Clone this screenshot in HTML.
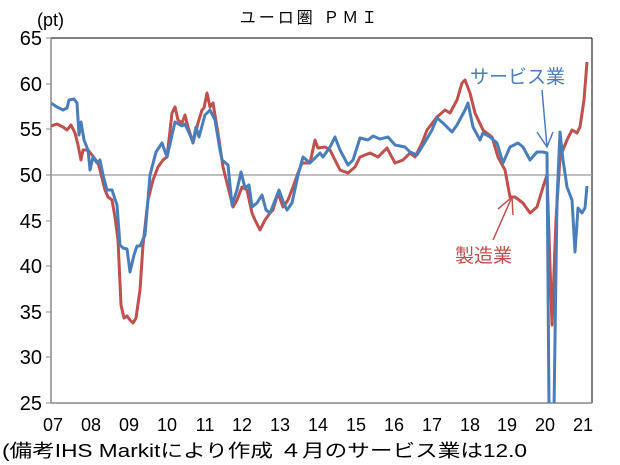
<!DOCTYPE html>
<html><head><meta charset="utf-8"><style>
body{margin:0;background:#fff;width:620px;height:465px;overflow:hidden}
svg{display:block}
text{font-family:"Liberation Sans","Noto Sans CJK JP",sans-serif}
</style></head><body>
<svg width="620" height="465" viewBox="0 0 620 465" xmlns="http://www.w3.org/2000/svg">
<defs><clipPath id="c"><rect x="51" y="30" width="541" height="373"/></clipPath></defs>
<text x="310" y="23" font-size="16" text-anchor="middle" letter-spacing="3">ユーロ圏 ＰＭＩ</text>
<text x="37" y="26" font-size="18" font-family="Liberation Mono,monospace">(pt)</text>
<line x1="51" y1="38" x2="592" y2="38" stroke="#000" stroke-width="1"/>
<line x1="592" y1="38" x2="592" y2="403" stroke="#000" stroke-width="1"/>
<line x1="51" y1="38" x2="51" y2="403" stroke="#888" stroke-width="1.5"/>
<line x1="51" y1="403" x2="592" y2="403" stroke="#888" stroke-width="1.5"/>
<line x1="51" y1="175" x2="592" y2="175" stroke="#999" stroke-width="1.3"/>
<g stroke="#888" stroke-width="1">
<line x1="46" y1="38" x2="51" y2="38"/><line x1="46" y1="84" x2="51" y2="84"/><line x1="46" y1="129" x2="51" y2="129"/><line x1="46" y1="175" x2="51" y2="175"/><line x1="46" y1="221" x2="51" y2="221"/><line x1="46" y1="266" x2="51" y2="266"/><line x1="46" y1="312" x2="51" y2="312"/><line x1="46" y1="357" x2="51" y2="357"/><line x1="46" y1="403" x2="51" y2="403"/>
</g>
<g font-size="20" text-anchor="end">
<text x="42" y="45">65</text><text x="42" y="91">60</text><text x="42" y="136">55</text><text x="42" y="182">50</text><text x="42" y="228">45</text><text x="42" y="273">40</text><text x="42" y="319">35</text><text x="42" y="364">30</text><text x="42" y="410">25</text>
</g>
<g font-size="18" text-anchor="middle">
<text x="53" y="431">07</text><text x="91" y="431">08</text><text x="129" y="431">09</text><text x="167" y="431">10</text><text x="205" y="431">11</text><text x="242" y="431">12</text><text x="280" y="431">13</text><text x="318" y="431">14</text><text x="356" y="431">15</text><text x="394" y="431">16</text><text x="432" y="431">17</text><text x="470" y="431">18</text><text x="507" y="431">19</text><text x="545" y="431">20</text><text x="583" y="431">21</text>
</g>
<text x="2" y="457" font-size="18" font-family="Noto Sans CJK JP,sans-serif" textLength="525" lengthAdjust="spacingAndGlyphs">(備考IHS Markitにより作成 ４月のサービス業は12.0</text>
<g clip-path="url(#c)" fill="none" stroke-width="3" stroke-linejoin="round">
<polyline stroke="#c0504d" points="51,126 57,124 63,127 67,130 71,125 75,133 78,145 81,160 83,150 88,150 92,155 98,163 100,170 105,190 108,197 112,200 115,217 118,240 121,305 124,318 127,316 130,320 133,323 136,318 140,290 143,245 148,200 153,180 158,167 163,160 167,157 172,113 175,107 178,120 182,123 185,115 188,127 193,143 198,123 202,110 204,108 207,93 210,107 213,103 218,133 223,167 228,187 233,207 237,200 242,187 247,190 252,213 255,220 260,230 265,220 270,213 273,210 278,193 283,207 288,200 293,187 298,173 302,163 307,163 310,163 315,140 318,148 325,147 330,150 335,160 340,170 348,173 355,167 360,157 370,153 378,157 387,148 395,163 403,160 410,153 415,157 422,143 427,130 437,117 445,110 450,113 457,100 462,83 465,80 470,93 475,113 483,130 492,137 498,157 505,170 510,197 515,197 523,203 530,213 537,207 543,187 547,175 552,325 556,220 560,157 567,140 572,130 577,133 580,127 584,100 587,62"/>
<polyline stroke="#4a7ebb" points="51,103 57,107 63,110 67,108 69,100 74,99 77,103 79,135 81,122 84,140 88,150 90,170 93,157 97,163 100,160 103,175 107,190 112,190 117,205 120,245 123,248 127,249 130,272 134,255 137,246 140,246 145,235 150,175 156,152 162,143 167,157 172,135 175,122 182,126 185,124 190,135 193,142 196,127 199,137 205,115 210,110 215,120 220,150 222,160 228,165 232,205 237,190 241,172 245,188 249,185 252,207 257,203 262,195 266,210 270,213 274,203 279,190 284,204 287,210 292,203 298,175 303,157 310,163 320,153 323,157 330,147 335,137 340,150 348,165 353,160 360,138 368,140 373,136 380,139 388,137 395,145 405,147 410,152 417,155 425,142 432,130 437,118 443,123 452,132 457,125 465,110 468,103 473,127 480,140 483,133 490,137 497,143 503,163 510,147 518,143 523,147 530,160 537,152 543,152 547,153 549,410 554,410 557,200 560,132 563,160 567,187 572,200 575,252 578,208 582,213 585,208 587,186"/>
</g>
<text x="470" y="83" font-size="19" fill="#4a7ebb">サービス業</text>
<g stroke="#4a7ebb" stroke-width="1.5" fill="none"><line x1="542" y1="90" x2="547" y2="147"/><polyline points="537,132 547,147 553,132"/></g>
<text x="455" y="262" font-size="19" fill="#c0504d">製造業</text>
<g stroke="#c0504d" stroke-width="1.5" fill="none"><line x1="493" y1="240" x2="512" y2="197"/><polyline points="498,209 512,197 513,215"/></g>
</svg>
</body></html>
